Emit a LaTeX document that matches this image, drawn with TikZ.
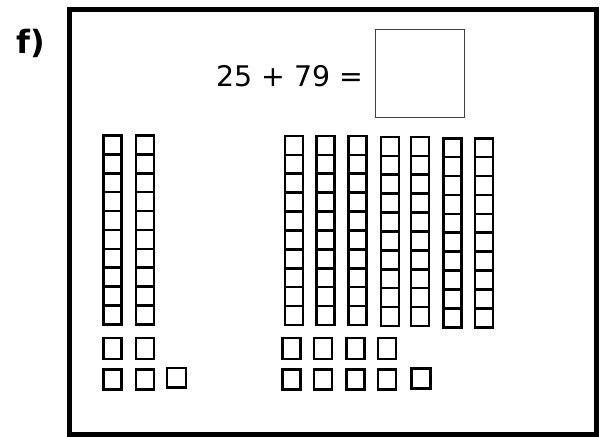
\documentclass[tikz,border=0pt]{standalone}
\usepackage{fontspec}
\setmainfont{DejaVu Sans}
\usetikzlibrary{positioning}

\begin{document}
\begin{tikzpicture}[x=0.5pt, y=-0.5pt]
    \tikzstyle{frame} = [draw=black, line width=2.5pt]
    \tikzstyle{cell} = [draw=black, line width=1.3pt]
    \tikzstyle{answer} = [rectangle, draw=black!75, line width=0.5pt, inner sep=0pt, minimum width=44.25pt, minimum height=44pt]
    \useasboundingbox (0,0) rectangle (600,437);

    \draw[frame] (69.5,9.8) rectangle (596.8,435);
    \node[font=\bfseries\fontsize{16}{19}\selectfont] (label) at (31,43) {f)};
    \node[font=\fontsize{14.2}{18}\selectfont, anchor=east, inner sep=0pt] (sum) at (364,76) {25 + 79 =};
    \node[answer] (box) at (419.75,73.5) {};

    % tens
    \foreach \x/\y in {103.7/135.5, 136/135.5, 285/136, 316.7/136, 348.7/136, 381/137, 411/137, 443.3/138.3, 475/138.3}
        \foreach \k in {0,...,9}
            \draw[cell] (\x,\y+18.9*\k) rectangle ++(18,18.9);

    % ones
    \foreach \x in {103.7, 136, 282.7, 314, 346.7, 378}
        \draw[cell] (\x,338) rectangle ++(18,21);
    \foreach \x in {103.7, 136, 282.7, 314, 346.7, 378}
        \draw[cell] (\x,369.5) rectangle ++(18,20);
    \draw[cell] (167,368) rectangle ++(19,19.5);
    \draw[cell] (411.7,368.7) rectangle ++(18.5,20);
\end{tikzpicture}
\end{document}
